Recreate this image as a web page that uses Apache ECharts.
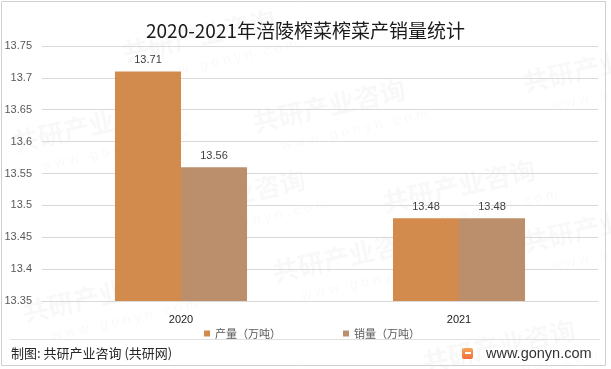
<!DOCTYPE html>
<html>
<head>
<meta charset="utf-8">
<script src="https://cdn.jsdelivr.net/npm/echarts@6/dist/echarts.min.js"></script>
<style>
html,body{margin:0;padding:0;background:#fff;}
#chart{width:611px;height:369px;}
</style>
</head>
<body>
<div id="chart"></div>
<script>
var categories = ['2020', '2021'];
var seriesNames = ['产量（万吨）', '销量（万吨）'];
var production = [13.71, 13.48];
var sales = [13.56, 13.48];
var titleText = '2020-2021年涪陵榨菜榨菜产销量统计';
var sourceText = '制图: 共研产业咨询 (共研网)';
var siteText = 'www.gonyn.com';

var chart = echarts.init(document.getElementById('chart'));

var wm = [];
var wmPos = [[10,130],[250,110],[520,70],[20,300],[270,260],[520,230],[120,40],[380,190],[150,200],[420,350]];
wmPos.forEach(function(p){
  wm.push({type:'text', x:p[0], y:p[1], rotation:0.22, z:-1, silent:true,
    style:{text:'共研产业咨询', font:'bold 26px "Noto Sans CJK SC"', fill:'rgba(0,0,0,0.028)'}});
  wm.push({type:'text', x:p[0]+30, y:p[1]+30, rotation:0.22, z:-1, silent:true,
    style:{text:'w w w . g o n y n . c o m', font:'14px "Liberation Sans"', fill:'rgba(0,0,0,0.028)'}});
});

var option = {
  backgroundColor: '#ffffff',
  animation: false,
  title: {
    text: titleText,
    left: 'center',
    top: 16,
    textStyle: {fontFamily: '"Noto Sans CJK SC"', fontSize: 19, fontWeight: 'normal', color: '#1a1a1a'}
  },
  legend: {
    data: seriesNames,
    left: 199,
    top: 323,
    icon: 'rect',
    itemWidth: 6,
    itemHeight: 6,
    itemGap: 62,
    textStyle: {fontFamily: '"Noto Sans CJK SC"', fontSize: 11, color: '#595959'}
  },
  grid: {left: 42, right: 13, top: 46, bottom: 68},
  xAxis: {
    type: 'category',
    data: categories,
    axisLine: {show: true, lineStyle: {color: '#d9d9d9'}},
    axisTick: {show: false},
    axisLabel: {fontFamily: '"Liberation Sans"', fontSize: 11, color: '#1a1a1a', margin: 13}
  },
  yAxis: {
    type: 'value',
    min: 13.35,
    max: 13.75,
    interval: 0.05,
    axisLine: {show: false},
    axisTick: {show: false},
    splitLine: {lineStyle: {color: '#d9d9d9'}},
    axisLabel: {fontFamily: '"Liberation Sans"', fontSize: 11, color: '#595959', margin: 10,
      formatter: function(v){ return String(Math.round(v*100)/100); }}
  },
  series: [
    {name: seriesNames[0], type: 'bar', data: production, barGap: '0%', barCategoryGap: '52.5%',
     itemStyle: {color: '#D38B4D'},
     label: {show: true, position: 'top', distance: 6, fontFamily: '"Liberation Sans"', fontSize: 11, color: '#404040'}},
    {name: seriesNames[1], type: 'bar', data: sales, barGap: '0%', barCategoryGap: '52.5%',
     itemStyle: {color: '#BC8F6C'},
     label: {show: true, position: 'top', distance: 6, fontFamily: '"Liberation Sans"', fontSize: 11, color: '#404040'}}
  ],
  graphic: wm.concat([
    {type:'rect', silent:true, shape:{x:1.5, y:1.5, width:604, height:364},
     style:{fill:'none', stroke:'#d0d0d0', lineWidth:1}},
    {type:'line', silent:true, shape:{x1:10, y1:339.5, x2:600, y2:339.5},
     style:{stroke:'#e0e0e0', lineWidth:1}},
    {type:'text', x:11, y:353, silent:true,
     style:{text:sourceText, font:'13px "Noto Sans CJK SC"', fill:'#262626', textVerticalAlign:'middle'}},
    {type:'rect', silent:true, shape:{x:462, y:348, width:11, height:11, r:2},
     style:{fill:new echarts.graphic.LinearGradient(0,0,0,1,[{offset:0,color:'#f7a65a'},{offset:1,color:'#f26b3a'}])}},
    {type:'rect', silent:true, shape:{x:465, y:352, width:6, height:2},
     style:{fill:'#ffffff'}},
    {type:'text', x:486, y:354, silent:true,
     style:{text:siteText, font:'14.5px "Liberation Sans"', fill:'#333333', textVerticalAlign:'middle'}}
  ])
};
chart.setOption(option);
</script>
</body>
</html>
